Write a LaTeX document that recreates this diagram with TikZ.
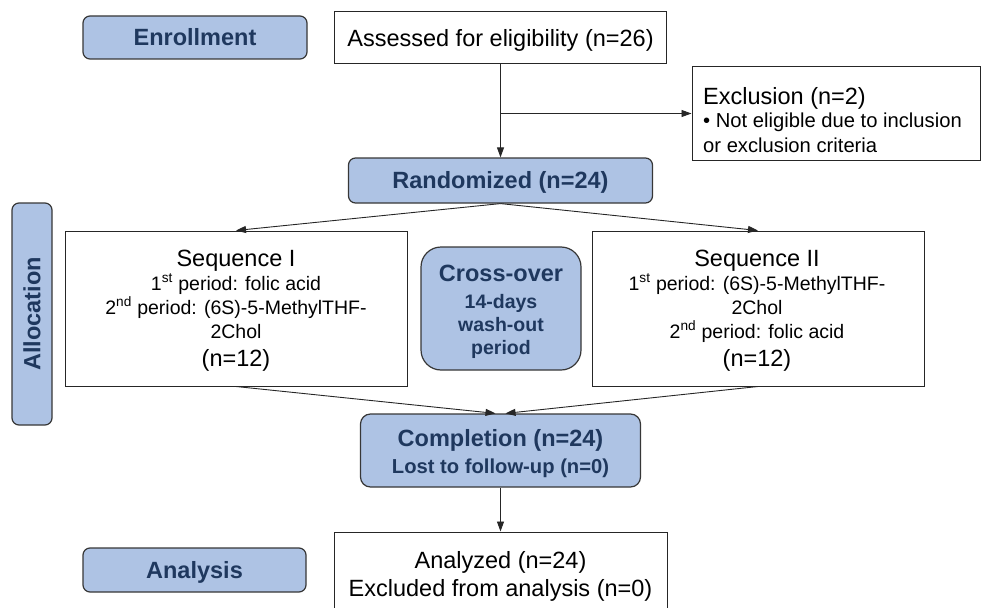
\documentclass[tikz,border=0pt]{standalone}
\usepackage{fontspec}
\setmainfont{Liberation Sans}
\usetikzlibrary{arrows.meta}
\definecolor{boxfill}{RGB}{174,195,228}
\definecolor{navy}{RGB}{31,56,94}
\definecolor{boxline}{RGB}{55,55,55}
\newcommand\fbig{\fontsize{23.5}{26}\selectfont}
\newcommand\fsmall{\fontsize{19.5}{21}\selectfont}
\newcommand\fmid{\fontsize{20.2}{22}\selectfont}
\begin{document}
\begin{tikzpicture}[x=1pt,y=-1pt,
  bluebox/.style={draw=boxline, fill=boxfill, line width=1.2pt, rounded corners=7pt,
    text=navy, font=\fbig\bfseries, inner sep=0pt, text height=16.8pt, text depth=0pt},
  whitebox/.style={draw=black!85, fill=white, line width=1pt, inner sep=0pt},
  bigtxt/.style={font=\fbig, text height=16.8pt, text depth=0pt},
  linetxt/.style={anchor=base, inner sep=0pt},
  arr/.style={-{Triangle[length=10pt,width=7pt]}, line width=0.9pt, black!85}]
\useasboundingbox (0,0) rectangle (981,607);
\clip (0,0) rectangle (981,607);

% boxes
\node[bluebox, minimum width=224pt, minimum height=43pt] (enroll) at (195,37.5) {Enrollment};
\node[whitebox, bigtxt, minimum width=332pt, minimum height=52pt] (assess) at (500.5,38) {Assessed for eligibility (n=26)};
\node[whitebox, minimum width=288pt, minimum height=93pt] (excl) at (836,113.5) {};
\node[bluebox, minimum width=304pt, minimum height=45pt] (rand) at (500.5,180.5) {Randomized (n=24)};
\node[bluebox, rotate=90, minimum width=222pt, minimum height=40pt] (alloc) at (32,314) {Allocation};
\node[whitebox, minimum width=342pt, minimum height=155pt] (seq1) at (236,308.5) {};
\node[whitebox, minimum width=332pt, minimum height=155pt] (seq2) at (758,308.5) {};
\node[bluebox, rounded corners=20pt, minimum width=160pt, minimum height=123pt] (cross) at (501,308.5) {};
\node[bluebox, rounded corners=10pt, minimum width=280pt, minimum height=73pt] (compl) at (500.5,450.5) {};
\node[bluebox, minimum width=223pt, minimum height=44pt] (analysis) at (194.5,570) {Analysis};
\node[whitebox, minimum width=333pt, minimum height=86pt] (analyzed) at (500.5,575) {};

% exclusion text
\node[linetxt, anchor=base west, font=\fbig] (exa) at (703,105) {Exclusion (n=2)};
\node[linetxt, anchor=base west, font=\fmid] (exb) at (703,128) {• Not eligible due to inclusion};
\node[linetxt, anchor=base west, font=\fmid] (exc) at (703,152) {or exclusion criteria};

% sequence I text
\node[linetxt, font=\fbig] (s1a) at (236,266) {Sequence I};
\node[linetxt, font=\fsmall] (s1b) at (236,290.5) {1\textsuperscript{st} period: folic acid};
\node[linetxt, font=\fsmall] (s1c) at (236,314.5) {2\textsuperscript{nd} period: (6S)-5-MethylTHF-};
\node[linetxt, font=\fsmall] (s1d) at (236,338) {2Chol};
\node[linetxt, font=\fbig] (s1e) at (236,366) {(n=12)};

% sequence II text
\node[linetxt, font=\fbig] (s2a) at (757,266) {Sequence II};
\node[linetxt, font=\fsmall] (s2b) at (757,290.5) {1\textsuperscript{st} period: (6S)-5-MethylTHF-};
\node[linetxt, font=\fsmall] (s2c) at (757,314.5) {2Chol};
\node[linetxt, font=\fsmall] (s2d) at (757,338) {2\textsuperscript{nd} period: folic acid};
\node[linetxt, font=\fbig] (s2e) at (757,366) {(n=12)};

% cross-over text
\node[linetxt, font=\fbig\bfseries, text=navy] (cra) at (501,281) {Cross-over};
\node[linetxt, font=\fsmall\bfseries, text=navy] (crb) at (501,308) {14-days};
\node[linetxt, font=\fsmall\bfseries, text=navy] (crc) at (501,331) {wash-out};
\node[linetxt, font=\fsmall\bfseries, text=navy] (crd) at (501,354) {period};

% completion text
\node[linetxt, font=\fbig\bfseries, text=navy] (coa) at (500.5,446) {Completion (n=24)};
\node[linetxt, font=\fmid\bfseries, text=navy] (cob) at (500.5,473) {Lost to follow-up (n=0)};

% analyzed text
\node[linetxt, font=\fbig] (ana) at (500.5,568) {Analyzed (n=24)};
\node[linetxt, font=\fbig] (anb) at (500.5,596) {Excluded from analysis (n=0)};

% connectors
\draw[arr] (assess.south) -- (rand.north);
\coordinate (br) at (assess.south |- excl.west);
\draw[arr] (br) -- (excl.west);
\draw[arr] (rand.south) -- (seq1.north);
\draw[arr] (rand.south) -- (seq2.north);
\draw[arr] (seq1.south) -- ([xshift=-5pt]compl.north);
\draw[arr] (seq2.south) -- ([xshift=5pt]compl.north);
\draw[arr] (compl.south) -- (analyzed.north);
\end{tikzpicture}
\end{document}
